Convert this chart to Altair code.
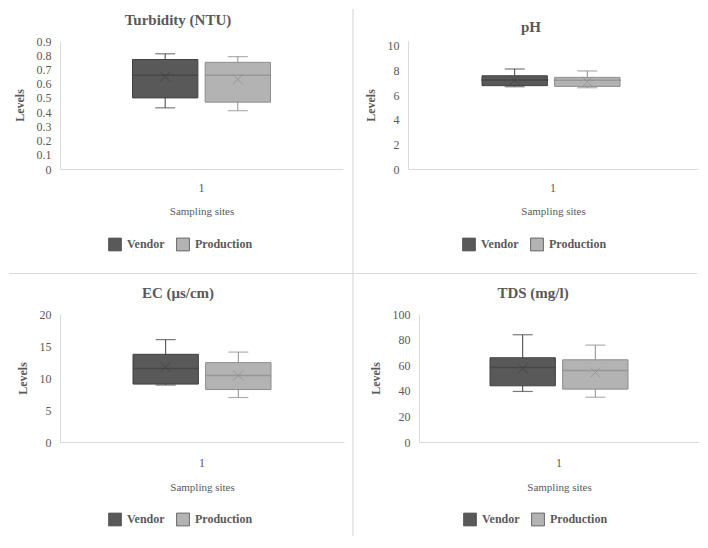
import altair as alt
import pandas as pd

# ---------------- data ----------------
series = ["Vendor", "Production"]
site = ["1", "1"]

turb_min = [0.43, 0.41]
turb_q1 = [0.50, 0.47]
turb_median = [0.66, 0.66]
turb_q3 = [0.77, 0.75]
turb_max = [0.81, 0.79]
turb_mean = [0.65, 0.63]
turb_ticks = [0, 0.1, 0.2, 0.3, 0.4, 0.5, 0.6, 0.7, 0.8, 0.9]

ph_min = [6.67, 6.59]
ph_q1 = [6.76, 6.70]
ph_median = [7.22, 7.19]
ph_q3 = [7.56, 7.43]
ph_max = [8.11, 7.95]
ph_mean = [7.20, 7.08]
ph_ticks = [0, 2, 4, 6, 8, 10]

ec_min = [8.9, 6.95]
ec_q1 = [9.05, 8.2]
ec_median = [11.5, 10.4]
ec_q3 = [13.7, 12.4]
ec_max = [16.0, 14.05]
ec_mean = [11.7, 10.4]
ec_ticks = [0, 5, 10, 15, 20]

tds_min = [39.5, 35.0]
tds_q1 = [43.9, 41.3]
tds_median = [58.3, 55.9]
tds_q3 = [65.8, 64.2]
tds_max = [83.8, 75.7]
tds_mean = [57.5, 54.3]
tds_ticks = [0, 20, 40, 60, 80, 100]

# ---------------- styles ----------------
FILL = ["#595959", "#b3b3b3"]
EDGE = ["#404040", "#8c8c8c"]
TEXT = "#595959"
LINE = "#d9d9d9"
FONT = "Liberation Serif"
X_SHAPE = "M-1,-1L1,1M-1,1L1,-1"
PLOT_H = 128


def panel(title, mn, q1, med, q3, mx, mean, ticks, ymax, fmt, width, band,
          tdx, tdy, lx, ly, lab_pad=13, tit_pad=12, deco=False):
    df = pd.DataFrame({"site": site, "series": series, "low": mn, "q1": q1,
                       "median": med, "q3": q3, "high": mx, "mean": mean})
    pad = (width / band - 1) / 2
    box_w = band * 0.9 / 1.9
    x = alt.X("site:N", title="Sampling sites",
              scale=alt.Scale(paddingInner=0, paddingOuter=pad),
              axis=alt.Axis(labelAngle=0, ticks=False, tickSize=0, labelPadding=lab_pad,
                            labelFont=FONT, labelFontSize=12, labelColor=TEXT,
                            titleFont=FONT, titleFontSize=11, titleFontWeight="normal",
                            titleColor=TEXT, titlePadding=tit_pad, domainColor=LINE,
                            grid=False))
    xo = alt.XOffset("series:N", sort=series,
                     scale=alt.Scale(domain=series, paddingInner=0.1, paddingOuter=0))
    yscale = alt.Scale(domain=[0, ymax], nice=False, zero=True)
    yaxis = alt.Axis(values=ticks, format=fmt, ticks=False, tickSize=0, labelPadding=9,
                     labelFont=FONT, labelFontSize=12, labelColor=TEXT,
                     titleFont=FONT, titleFontSize=12, titleFontWeight="bold",
                     titleColor=TEXT, titlePadding=10, domainColor=LINE, grid=False)

    def Y(f):
        return alt.Y(f"{f}:Q", scale=yscale, axis=yaxis, title="Levels")

    legend = alt.Legend(orient="none", legendX=lx, legendY=ly,
                        direction="horizontal", title=None,
                        symbolType="square", symbolSize=165,
                        symbolStrokeColor="#4d4d4d",
                        symbolStrokeWidth=0.8, symbolOpacity=1,
                        labelFont=FONT, labelFontSize=12,
                        labelFontWeight="bold", labelColor=TEXT,
                        labelOffset=5, columnPadding=9, padding=0)

    base = alt.Chart(df)
    layers = []
    # whiskers (drawn behind the boxes), one layer per series with a fixed colour
    for i, s in enumerate(series):
        sub = base.transform_filter(alt.datum.series == s)
        layers.append(sub.mark_rule(strokeWidth=1, color=EDGE[i]).encode(
            x=x, xOffset=xo, y=Y("low"), y2=alt.Y2("high")))
    # box fill (carries the legend)
    layers.append(base.mark_bar(strokeWidth=0).encode(
        x=x, xOffset=xo, y=Y("q1"), y2=alt.Y2("q3"),
        color=alt.Color("series:N", sort=series,
                        scale=alt.Scale(domain=series, range=FILL),
                        legend=legend)))
    for i, s in enumerate(series):
        sub = base.transform_filter(alt.datum.series == s)
        layers.append(sub.mark_bar(fillOpacity=0, stroke=EDGE[i], strokeWidth=1).encode(
            x=x, xOffset=xo, y=Y("q1"), y2=alt.Y2("q3")))
        for f in ["low", "high"]:
            layers.append(sub.mark_tick(orient="horizontal", size=20, thickness=1.2,
                                        color=EDGE[i]).encode(
                x=x, xOffset=xo, y=Y(f)))
        layers.append(sub.mark_tick(orient="horizontal", size=box_w, thickness=1.5,
                                    color=EDGE[i]).encode(
            x=x, xOffset=xo, y=Y("median")))
        layers.append(sub.mark_point(shape=X_SHAPE, filled=False, size=100,
                                     strokeWidth=1, color=EDGE[i]).encode(
            x=x, xOffset=xo, y=Y("mean")))
    if deco:
        one = alt.Chart(pd.DataFrame({"d": [0]}))
        vline = one.mark_rule(color=LINE, strokeWidth=1.2).encode(
            x=alt.value(293), y=alt.value(-32), y2=alt.value(495))
        hline = one.mark_rule(color=LINE, strokeWidth=1.2).encode(
            x=alt.value(-51), x2=alt.value(637), y=alt.value(232.5))
        layers = [vline, hline] + layers
    return alt.layer(*layers).properties(
        width=width, height=PLOT_H,
        title=alt.TitleParams(text=title, font=FONT, fontSize=15, fontWeight="bold",
                              color=TEXT, anchor="middle", frame="group",
                              dx=tdx, dy=tdy, offset=0))


p_turb = panel("Turbidity (NTU)", turb_min, turb_q1, turb_median, turb_q3, turb_max,
               turb_mean, turb_ticks, 0.9, ".1~f", 283, 138, -23.5, 19.5, 48, 196,
               deco=True)
p_ph = panel("pH", ph_min, ph_q1, ph_median, ph_q3, ph_max, ph_mean, ph_ticks,
             10.38, "d", 290, 142, -22, -4.7, 54, 196)
p_ec = panel("EC (μs/cm)", ec_min, ec_q1, ec_median, ec_q3, ec_max, ec_mean, ec_ticks,
             20, "d", 284, 138, -24, -6.7, 48, 198, lab_pad=15, tit_pad=13)
p_tds = panel("TDS (mg/l)", tds_min, tds_q1, tds_median, tds_q3, tds_max, tds_mean,
              tds_ticks, 100, "d", 280, 138, -26, -6.7, 44, 198, lab_pad=15, tit_pad=13)


def indep(c):
    return c.resolve_scale(color="independent").resolve_legend(color="independent")


row1 = indep(alt.hconcat(p_turb, p_ph, spacing=65, bounds="flush"))
row2 = indep(alt.hconcat(p_ec, p_tds, spacing=75, bounds="flush"))
chart = indep(alt.vconcat(row1, row2, spacing=273, bounds="flush")).properties(
    padding=0, background="white"
).configure(font=FONT).configure_view(stroke="transparent", strokeWidth=0)

chart.save("out.html", embed_options={"renderer": "svg", "actions": False})
